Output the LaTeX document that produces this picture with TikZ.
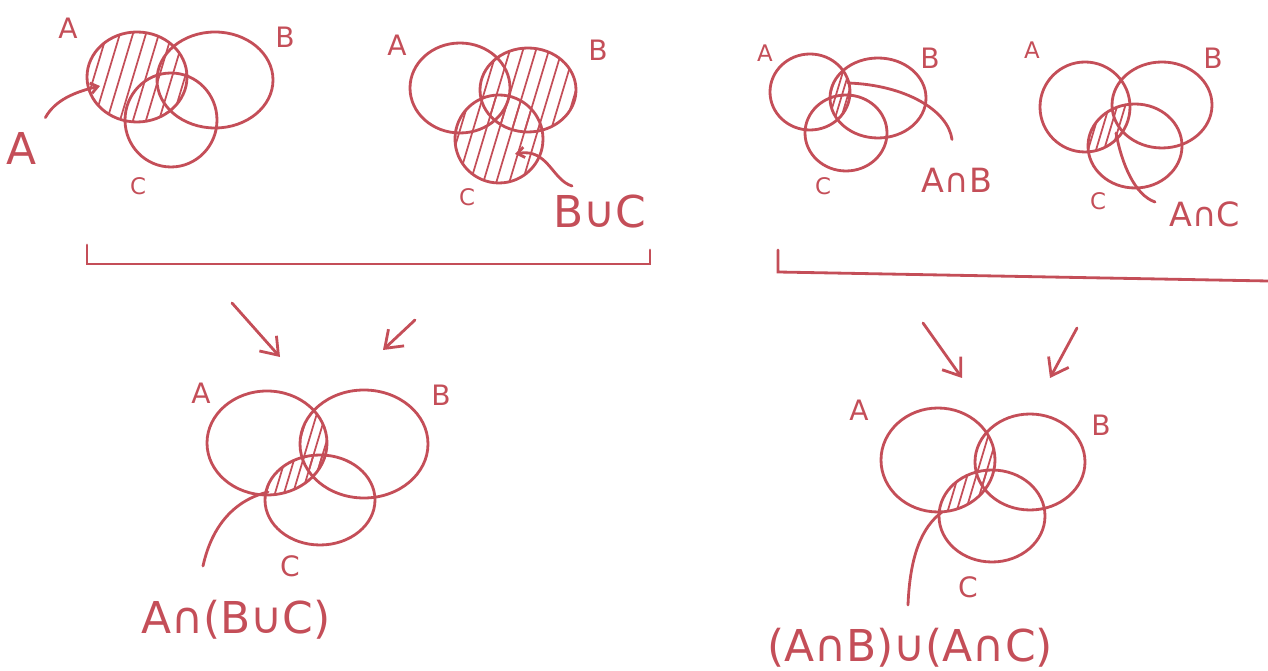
\documentclass[tikz,border=0pt]{standalone}
\usepackage{fontspec}
\setmainfont{DejaVu Sans}
\usetikzlibrary{arrows.meta}
\definecolor{ink}{RGB}{196,78,88}
\newcommand{\hatchat}[3]{\foreach \k in {0,...,46}{\draw[hatchline] ({#1-160+\k*#3-30},{#2+100}) -- ++(60,-200);}}
\begin{document}
\begin{tikzpicture}[x=0.02cm,y=-0.02cm,
  ring/.style={draw=ink,line width=1.6pt},
  hatchline/.style={draw=ink,line width=1pt},
  lbl/.style={text=ink,font=\fontsize{16}{18}\selectfont,inner sep=0pt},
  small/.style={text=ink,font=\fontsize{13}{15}\selectfont,inner sep=0pt},
  mid/.style={text=ink,font=\fontsize{19}{22}\selectfont,inner sep=0pt},
  big/.style={text=ink,font=\fontsize{25}{29}\selectfont,inner sep=0pt},
  pointer/.style={draw=ink,line width=1.6pt,line cap=round},
  flow/.style={draw=ink,line width=1.6pt,line cap=round,-{Straight Barb[length=9pt,width=13pt]}},
  bracket/.style={draw=ink,line width=1.6pt,line cap=round}]
\useasboundingbox (0,0) rectangle (1268,671);

% ---------- Diagram 1 : A ----------
\begin{scope}
  \clip (137,77) ellipse [x radius=50,y radius=45];
  \hatchat{137}{77}{13}
\end{scope}
\draw[ring] (137,77) ellipse [x radius=50,y radius=45];
\draw[ring] (215,80) ellipse [x radius=58,y radius=48];
\draw[ring] (171,120) ellipse [x radius=46,y radius=47];
\node[lbl] (d1A) at (68,28) {A};
\node[lbl] (d1B) at (285,37) {B};
\node[small] (d1C) at (138,186) {C};
\node[big] (d1L) at (22,148) {A};
\coordinate (d1P) at (100,86);
\draw[pointer,-{Straight Barb[length=4pt,width=6pt]}] (d1L.north east) ++(8,-14) .. controls (55,100) and (75,92) .. (d1P);

% ---------- Diagram 2 : B u C ----------
\begin{scope}
  \clip (528,90) ellipse [x radius=48,y radius=42];
  \hatchat{528}{90}{13}
\end{scope}
\begin{scope}
  \clip (499,139) ellipse [x radius=44,y radius=44];
  \hatchat{528}{90}{13}
\end{scope}
\draw[ring] (460,88) ellipse [x radius=50,y radius=45];
\draw[ring] (528,90) ellipse [x radius=48,y radius=42];
\draw[ring] (499,139) ellipse [x radius=44,y radius=44];
\node[lbl] (d2A) at (397,45) {A};
\node[lbl] (d2B) at (598,50) {B};
\node[small] (d2C) at (467,197) {C};
\node[big] (d2L) at (600,212) {B∪C};
\coordinate (d2S) at (572,186);
\coordinate (d2P) at (515,154);
\draw[pointer,-{Straight Barb[length=4pt,width=6pt]}] (d2S) .. controls (552,180) and (548,148) .. (d2P);

% ---------- Diagram 3 : A n B ----------
\begin{scope}
  \clip (810,92) ellipse [x radius=40,y radius=38];
  \clip (878,98) ellipse [x radius=48,y radius=40];
  \hatchat{840}{95}{6}
\end{scope}
\draw[ring] (810,92) ellipse [x radius=40,y radius=38];
\draw[ring] (878,98) ellipse [x radius=48,y radius=40];
\draw[ring] (846,133) ellipse [x radius=41,y radius=38];
\node[small] (d3A) at (765,53) {A};
\node[lbl] (d3B) at (930,58) {B};
\node[small] (d3C) at (823,186) {C};
\node[mid] (d3L) at (957,180) {A∩B};
\coordinate (d3P) at (848,83);
\draw[pointer] (d3L.north) ++(-5,-28) .. controls (948,110) and (905,85) .. (d3P);

% ---------- Diagram 4 : A n C ----------
\begin{scope}
  \clip (1085,107) ellipse [x radius=45,y radius=45];
  \clip (1135,146) ellipse [x radius=47,y radius=42];
  \hatchat{1110}{130}{8}
\end{scope}
\draw[ring] (1085,107) ellipse [x radius=45,y radius=45];
\draw[ring] (1162,105) ellipse [x radius=50,y radius=43];
\draw[ring] (1135,146) ellipse [x radius=47,y radius=42];
\node[small] (d4A) at (1032,50) {A};
\node[lbl] (d4B) at (1213,58) {B};
\node[small] (d4C) at (1098,201) {C};
\node[mid] (d4L) at (1205,214) {A∩C};
\coordinate (d4S) at (1155,202);
\coordinate (d4P) at (1116,133);
\draw[pointer] (d4S) .. controls (1135,195) and (1122,165) .. (d4P);

% ---------- Brackets ----------
\coordinate (bL1) at (87,245);
\coordinate (bL2) at (87,264);
\coordinate (bL3) at (650,264);
\coordinate (bL4) at (650,250);
\draw[bracket] (bL1) -- (bL2) -- (bL3) -- (bL4);
\coordinate (bR1) at (778,250);
\coordinate (bR2) at (778,272);
\coordinate (bR3) at (1268,281);
\draw[bracket] (bR1) -- (bR2) -- (bR3);

% ---------- Flow arrows ----------
\coordinate (f1s) at (232,303); \coordinate (f1e) at (280,357);
\coordinate (f2s) at (415,320); \coordinate (f2e) at (383,350);
\coordinate (f3s) at (923,323); \coordinate (f3e) at (962,378);
\coordinate (f4s) at (1077,328); \coordinate (f4e) at (1050,378);
\draw[flow] (f1s) -- (f1e);
\draw[flow] (f2s) -- (f2e);
\draw[flow] (f3s) -- (f3e);
\draw[flow] (f4s) -- (f4e);

% ---------- Diagram 5 : A n (B u C) ----------
\begin{scope}
  \clip (267,443) ellipse [x radius=60,y radius=52];
  \clip (364,444) ellipse [x radius=64,y radius=54];
  \hatchat{310}{460}{9}
\end{scope}
\begin{scope}
  \clip (267,443) ellipse [x radius=60,y radius=52];
  \clip (320,500) ellipse [x radius=55,y radius=45];
  \hatchat{310}{460}{9}
\end{scope}
\draw[ring] (267,443) ellipse [x radius=60,y radius=52];
\draw[ring] (364,444) ellipse [x radius=64,y radius=54];
\draw[ring] (320,500) ellipse [x radius=55,y radius=45];
\node[lbl] (d5A) at (201,393) {A};
\node[lbl] (d5B) at (441,395) {B};
\node[lbl] (d5C) at (290,566) {C};
\node[big] (d5L) at (236,620) {A∩(B∪C)};
\coordinate (d5S) at (203,566);
\coordinate (d5P) at (268,492);
\draw[pointer] (d5S) .. controls (212,525) and (235,500) .. (d5P);

% ---------- Diagram 6 : (A n B) u (A n C) ----------
\begin{scope}
  \clip (938,460) ellipse [x radius=57,y radius=52];
  \clip (1030,462) ellipse [x radius=55,y radius=48];
  \hatchat{985}{470}{9}
\end{scope}
\begin{scope}
  \clip (938,460) ellipse [x radius=57,y radius=52];
  \clip (992,516) ellipse [x radius=53,y radius=46];
  \hatchat{985}{470}{9}
\end{scope}
\draw[ring] (938,460) ellipse [x radius=57,y radius=52];
\draw[ring] (1030,462) ellipse [x radius=55,y radius=48];
\draw[ring] (992,516) ellipse [x radius=53,y radius=46];
\node[lbl] (d6A) at (859,410) {A};
\node[lbl] (d6B) at (1101,425) {B};
\node[lbl] (d6C) at (968,587) {C};
\node[big] (d6L) at (910,648) {(A∩B)∪(A∩C)};
\coordinate (d6S) at (908,605);
\coordinate (d6P) at (942,512);
\draw[pointer] (d6S) .. controls (910,555) and (922,527) .. (d6P);
\end{tikzpicture}
\end{document}
